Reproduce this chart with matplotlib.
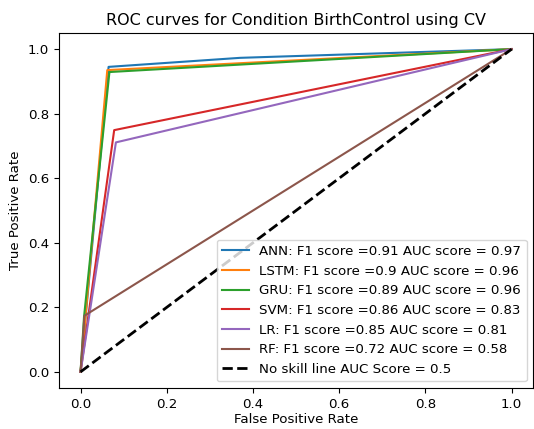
import numpy as np
import matplotlib
matplotlib.use('Agg')
import matplotlib.pyplot as plt

# ROC points (fpr, tpr)
names = ['ANN', 'LSTM', 'GRU', 'SVM', 'LR', 'RF']
f1_scores = ['0.91', '0.9', '0.89', '0.86', '0.85', '0.72']
auc_scores = ['0.97', '0.96', '0.96', '0.83', '0.81', '0.58']

ann_fpr = [0.0, 0.065, 0.37, 1.0]
ann_tpr = [0.0, 0.945, 0.973, 1.0]
lstm_fpr = [0.0, 0.062, 1.0]
lstm_tpr = [0.0, 0.935, 1.0]
gru_fpr = [0.0, 0.008, 0.067, 1.0]
gru_tpr = [0.0, 0.17, 0.929, 1.0]
svm_fpr = [0.0, 0.078, 1.0]
svm_tpr = [0.0, 0.749, 1.0]
lr_fpr = [0.0, 0.082, 1.0]
lr_tpr = [0.0, 0.711, 1.0]
rf_fpr = [0.0, 0.009, 1.0]
rf_tpr = [0.0, 0.174, 1.0]

fprs = [ann_fpr, lstm_fpr, gru_fpr, svm_fpr, lr_fpr, rf_fpr]
tprs = [ann_tpr, lstm_tpr, gru_tpr, svm_tpr, lr_tpr, rf_tpr]

plt.rcParams['font.size'] = 9.6

fig = plt.figure(figsize=(5.34, 4.29), dpi=100)
ax = fig.add_axes([0.1105, 0.0956, 0.888, 0.8275])

for name, f1, auc, fpr, tpr in zip(names, f1_scores, auc_scores, fprs, tprs):
    ax.plot(fpr, tpr, label='%s: F1 score =%s AUC score = %s' % (name, f1, auc))

ax.plot([0, 1], [0, 1], 'k--', lw=2, label='No skill line AUC Score = 0.5')

ax.set_xlim(-0.05, 1.05)
ax.set_ylim(-0.05, 1.05)
ax.set_xlabel('False Positive Rate', labelpad=2)
ax.set_ylabel('True Positive Rate')
ax.set_title('ROC curves for Condition BirthControl using CV', fontsize=11.5)
ax.legend(loc='lower right', fontsize=9.6)

fig.savefig('out.png', dpi=100)
